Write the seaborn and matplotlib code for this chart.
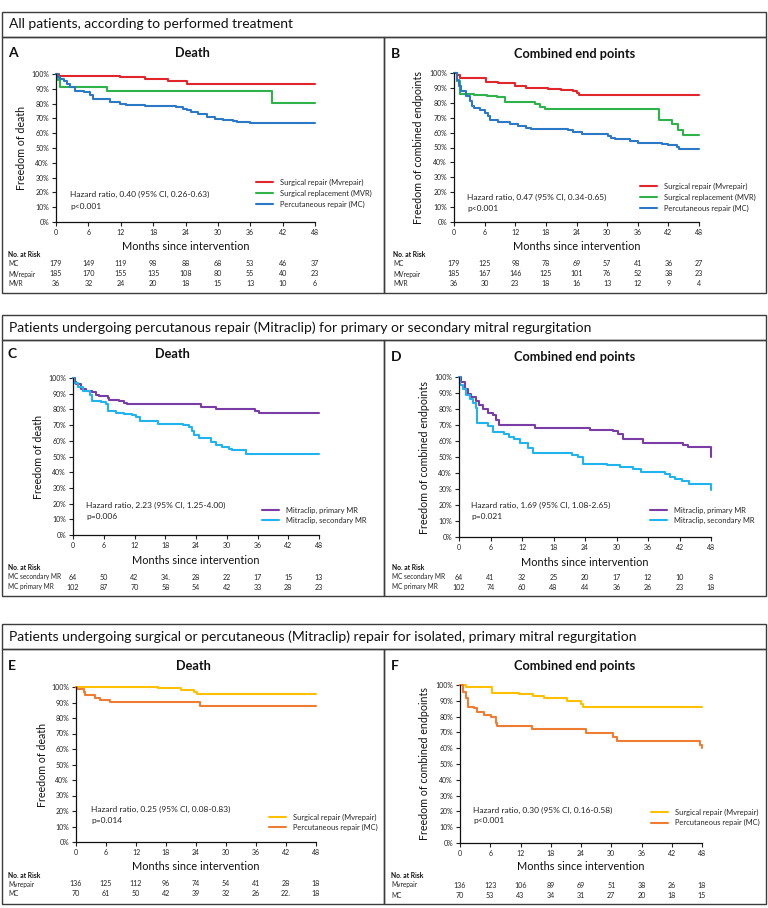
import matplotlib
matplotlib.use("Agg")
import pandas as pd
import seaborn as sns
import matplotlib.pyplot as plt
from matplotlib.patches import Rectangle
from matplotlib.transforms import blended_transform_factory

# --- data -------------------------------------------------------------
month_ticks = [0, 6, 12, 18, 24, 30, 36, 42, 48]
pct_ticks = [0, 10, 20, 30, 40, 50, 60, 70, 80, 90, 100]

# Panel A: death, all patients
a_rep_t = [0, 0.5, 11.9, 16.5, 20.8, 23.0, 24.2, 48]
a_rep_s = [100, 98.4, 97.7, 96.8, 95.5, 95.0, 93.2, 93.2]
a_mvr_t = [0, 0.3, 0.8, 9.5, 40.0, 48]
a_mvr_s = [100, 96, 91.3, 88.6, 80.7, 80.7]
a_mc_t = [0, 0.4, 0.8, 1.4, 2.0, 2.6, 3.5, 5.1, 6.3, 6.9, 10.0, 11.9, 13.0, 16.5,
          22.3, 23.5, 24.2, 25.0, 26.3, 27.9, 29.4, 31.0, 32.8, 33.5, 35.9, 48]
a_mc_s = [100, 98, 96.5, 95.5, 93.5, 91, 88.3, 87.6, 86, 82.8, 80.9, 80, 79.3, 78.5,
          77.5, 76.6, 75.5, 74.1, 73, 71, 69.6, 69.1, 68.5, 67.8, 66.6, 66.6]

# Panel B: combined end points, all patients
b_rep_t = [0, 0.5, 1.1, 6.3, 8.6, 11.9, 14.2, 18.4, 21.0, 23.3, 24.0, 24.4, 48]
b_rep_s = [100, 98.5, 96.9, 94.2, 93.3, 91.3, 90.2, 89.3, 88.8, 87.9, 86.6, 85.0, 85.0]
b_mvr_t = [0, 0.5, 1.1, 4.0, 6.5, 8.5, 9.9, 15.9, 16.8, 17.8, 40.2, 42.8, 43.8, 44.8, 48]
b_mvr_s = [100, 94.4, 86, 85.5, 84.8, 84, 80.5, 79.5, 77.5, 75.8, 68.7, 65.5, 62, 58.6, 58.6]
b_mc_t = [0, 0.5, 0.9, 1.4, 2.4, 3.1, 3.5, 3.9, 5.0, 6.0, 6.6, 7.0, 8.6, 10.9, 12.5, 14.2,
          15.0, 22.4, 23.3, 25.0, 30.2, 30.8, 31.5, 34.4, 36.1, 40.7, 42.0, 43.6, 44.1, 48]
b_mc_s = [100, 95, 91, 87.7, 84.3, 81, 78, 76.2, 75.4, 73.2, 71, 68.7, 67.1, 65.8, 64.7, 63.1,
          62.6, 61.5, 60.4, 59.3, 58.0, 56.5, 55.9, 54.1, 52.8, 52.3, 51.5, 50.3, 48.8, 48.8]

# Panel C: death, Mitraclip primary vs secondary MR
c_pri_t = [0, 0.3, 0.6, 1.6, 2.5, 3.8, 4.5, 5.1, 6.8, 7.1, 9.0, 10.0, 10.6, 24.9, 27.9, 35.5, 36.2, 48]
c_pri_s = [100, 97.5, 96, 93.3, 91.8, 90.8, 89.4, 88.3, 87, 86, 85.5, 84, 83.2, 81.7, 80.2, 79.1, 77.4, 77.4]
c_sec_t = [0, 0.1, 1.0, 1.9, 3.3, 3.7, 5.5, 6.4, 6.9, 8.4, 10.0, 11.6, 12.3, 13.0, 16.5, 20.1,
           21.5, 22.7, 23.2, 23.6, 24.6, 26.9, 27.9, 29.0, 30.5, 31.1, 33.7, 48]
c_sec_s = [100, 96.5, 94, 92, 89.4, 85.1, 84.5, 83.7, 78.8, 77.9, 77.3, 76.6, 75.2, 72.8, 70.9, 70.5,
           69.8, 68.8, 66, 63.5, 62, 59.2, 57.1, 56.2, 55, 54.1, 51.4, 51.4]

# Panel D: combined end points, Mitraclip primary vs secondary MR
d_pri_t = [0, 0.4, 1.1, 1.7, 2.3, 3.3, 3.9, 4.6, 5.5, 6.5, 7.1, 7.7, 14.4, 24.9, 29.3, 30.3,
           31.2, 35.1, 42.6, 43.6, 48]
d_pri_s = [100, 96.9, 92.7, 89.6, 87.5, 84.8, 82.3, 79.8, 77.7, 76.5, 72.9, 69.8, 68.1, 66.7, 66, 64.6,
           61.5, 59, 57.5, 56.3, 50]
d_sec_t = [0, 0.1, 0.8, 1.4, 2.0, 2.7, 3.2, 3.4, 5.5, 6.4, 8.5, 9.5, 10.5, 11.6, 13.1, 14.1, 20.2,
           21.5, 22.7, 23.6, 28.1, 30.6, 33.1, 34.7, 39.2, 40.2, 41.1, 42.5, 43.9, 47.4, 48]
d_sec_s = [100, 95, 92.7, 89, 86.5, 84, 80.4, 71, 69.4, 65.6, 64.5, 62.8, 61, 59, 55.6, 52.7, 52.2,
           51.3, 50, 45.8, 45.3, 43.8, 42.7, 40.6, 39.5, 37.8, 36.5, 35, 33.3, 33, 29.2]

# Panel E: death, isolated primary MR
e_rep_t = [0, 16.3, 21.0, 23.6, 24.2, 48]
e_rep_s = [100, 99.1, 97.9, 96.5, 95.2, 95.2]
e_mc_t = [0, 0.1, 1.5, 1.8, 3.8, 4.8, 6.8, 24.8, 48]
e_mc_s = [100, 98.5, 96.8, 94.6, 93.1, 91.8, 90.3, 87.7, 87.7]

# Panel F: combined end points, isolated primary MR
f_rep_t = [0, 1.1, 6.4, 11.7, 14.4, 16.7, 21.3, 24.0, 24.3, 48]
f_rep_s = [100, 98.5, 95.1, 94.3, 93, 91.6, 90.1, 88, 86.3, 86.3]
f_mc_t = [0, 0.5, 1.1, 1.5, 2.8, 3.4, 4.8, 6.1, 7.1, 7.4, 14.2, 25.0, 30.4, 31.1, 47.6, 48]
f_mc_s = [100, 95.8, 91.6, 86.3, 85.2, 83.1, 81, 80, 75.7, 74, 71.9, 69.8, 67, 64.8, 62, 59.9]

# numbers at risk
a_risk_mc = [179, 149, 119, 98, 88, 68, 53, 46, 37]
a_risk_rep = [185, 170, 155, 135, 108, 80, 55, 40, 23]
a_risk_mvr = [36, 32, 24, 20, 18, 15, 13, 10, 6]
b_risk_mc = [179, 125, 98, 78, 69, 57, 41, 36, 27]
b_risk_rep = [185, 167, 146, 125, 101, 76, 52, 38, 23]
b_risk_mvr = [36, 30, 23, 18, 16, 13, 12, 9, 4]
c_risk_sec = ['64', '50', '42', '34.', '28', '22', '17', '15', '13']
c_risk_pri = [102, 87, 70, 58, 54, 42, 33, 28, 23]
d_risk_sec = [64, 41, 32, 25, 20, 17, 12, 10, 8]
d_risk_pri = [102, 74, 60, 48, 44, 36, 26, 23, 18]
e_risk_rep = [136, 125, 112, 96, 74, 54, 41, 28, 18]
e_risk_mc = ['70', '61', '50', '42', '39', '32', '26', '22.', '18']
f_risk_rep = [136, 123, 106, 89, 69, 51, 38, 26, 18]
f_risk_mc = [70, 53, 43, 34, 31, 27, 20, 18, 15]

section_titles = [
    "All patients, according to performed treatment",
    "Patients undergoing percutanous repair (Mitraclip) for primary or secondary mitral regurgitation",
    "Patients undergoing surgical or percutaneous (Mitraclip) repair for isolated, primary mitral regurgitation",
]

RED, GREEN, BLUE = "#E1262B", "#2DB34A", "#2A78C6"
PURPLE, CYAN = "#7A3DA6", "#1FB4EE"
YELLOW, ORANGE = "#FFC000", "#EE7D31"

lab_rep = "Surgical repair (Mvrepair)"
lab_mvr = "Surgical replacement (MVR)"
lab_mc = "Percutaneous repair (MC)"
lab_pri = "Mitraclip, primary MR"
lab_sec = "Mitraclip, secondary MR"

# --- figure setup -------------------------------------------------------
W, H = 768, 908
sns.set_theme(style="ticks")
plt.rcParams['font.family'] = ['Lato', 'DejaVu Sans']

fig = plt.figure(figsize=(W / 100, H / 100), dpi=100)


def fx(x):
    return x / W


def fy(y):
    return 1 - y / H


def box(x0, y0, x1, y1):
    fig.add_artist(Rectangle((fx(x0), fy(y1)), fx(x1) - fx(x0), fy(y0) - fy(y1),
                             transform=fig.transFigure, fill=False,
                             edgecolor="#3c3c3c", lw=1.0))


# section header boxes and panel boxes (pixel coords)
sections = [(12, 37, 293), (315, 340, 596), (624, 649, 904)]
for (top, mid, bot), title in zip(sections, section_titles):
    box(2, top, 766, mid)
    box(2, mid, 384, bot)
    box(384, mid, 766, bot)
    fig.text(fx(9), fy((top + mid) / 2), title, fontsize=10, va="center", ha="left", color="#111")

panels = [
    dict(letter="A", title="Death", ylabel="Freedom of death",
         ax_box=(56, 74, 315, 222), letter_xy=(8, 53), title_xy=(192, 53), ylab_x=22, xlab_y=247,
         curves=[(a_rep_t, a_rep_s, RED, lab_rep), (a_mvr_t, a_mvr_s, GREEN, lab_mvr),
                 (a_mc_t, a_mc_s, BLUE, lab_mc)],
         leg_xy=(256, 179), leg_sp=0.5,
         hr=("Hazard ratio, 0.40 (95% CI, 0.26-0.63)", "p<0.001"), hr_xy=(70, 194, 206),
         risk_x=8, risk_head_y=254,
         risk=[("MC", a_risk_mc, 264), ("MVrepair", a_risk_rep, 274), ("MVR", a_risk_mvr, 283)]),
    dict(letter="B", title="Combined end points", ylabel="Freedom of combined endpoints",
         ax_box=(454, 73, 699, 222), letter_xy=(391, 54), title_xy=(575, 54), ylab_x=419, xlab_y=247,
         curves=[(b_rep_t, b_rep_s, RED, lab_rep), (b_mvr_t, b_mvr_s, GREEN, lab_mvr),
                 (b_mc_t, b_mc_s, BLUE, lab_mc)],
         leg_xy=(640, 183), leg_sp=0.5,
         hr=("Hazard ratio, 0.47 (95% CI, 0.34-0.65)", "p<0.001"), hr_xy=(467, 197, 208),
         risk_x=393, risk_head_y=254,
         risk=[("MC", b_risk_mc, 264), ("MVrepair", b_risk_rep, 274), ("MVR", b_risk_mvr, 283)]),
    dict(letter="C", title="Death", ylabel="Freedom of death",
         ax_box=(73, 378, 319, 535), letter_xy=(8, 354), title_xy=(172, 354), ylab_x=39, xlab_y=560,
         curves=[(c_pri_t, c_pri_s, PURPLE, lab_pri), (c_sec_t, c_sec_s, CYAN, lab_sec)],
         leg_xy=(262, 507), leg_sp=0.35,
         hr=("Hazard ratio, 2.23 (95% CI, 1.25-4.00)", "p=0.006"), hr_xy=(86, 505, 517),
         risk_x=8, risk_head_y=567,
         risk=[("MC secondary MR", c_risk_sec, 577), ("MC primary MR", c_risk_pri, 587)]),
    dict(letter="D", title="Combined end points", ylabel="Freedom of combined endpoints",
         ax_box=(459, 377, 711, 537), letter_xy=(391, 357), title_xy=(575, 357), ylab_x=424, xlab_y=562,
         curves=[(d_pri_t, d_pri_s, PURPLE, lab_pri), (d_sec_t, d_sec_s, CYAN, lab_sec)],
         leg_xy=(650, 507), leg_sp=0.4,
         hr=("Hazard ratio, 1.69 (95% CI, 1.08-2.65)", "p=0.021"), hr_xy=(471, 505, 517),
         risk_x=392, risk_head_y=568,
         risk=[("MC secondary MR", d_risk_sec, 577), ("MC primary MR", d_risk_pri, 587)]),
    dict(letter="E", title="Death", ylabel="Freedom of death",
         ax_box=(76, 687, 316, 842), letter_xy=(8, 666), title_xy=(193, 666), ylab_x=42, xlab_y=867,
         curves=[(e_rep_t, e_rep_s, YELLOW, lab_rep), (e_mc_t, e_mc_s, ORANGE, lab_mc)],
         leg_xy=(269, 814), leg_sp=0.3,
         hr=("Hazard ratio, 0.25 (95% CI, 0.08-0.83)", "p=0.014"), hr_xy=(91, 809, 820),
         risk_x=8, risk_head_y=875,
         risk=[("Mvrepair", e_risk_rep, 884), ("MC", e_risk_mc, 894)]),
    dict(letter="F", title="Combined end points", ylabel="Freedom of combined endpoints",
         ax_box=(460, 685, 702, 843), letter_xy=(391, 666), title_xy=(575, 666), ylab_x=425, xlab_y=867,
         curves=[(f_rep_t, f_rep_s, YELLOW, lab_rep), (f_mc_t, f_mc_s, ORANGE, lab_mc)],
         leg_xy=(651, 809), leg_sp=0.4,
         hr=("Hazard ratio, 0.30 (95% CI, 0.16-0.58)", "p<0.001"), hr_xy=(473, 810, 820),
         risk_x=391, risk_head_y=875,
         risk=[("Mvrepair", f_risk_rep, 885), ("MC", f_risk_mc, 895)]),
]

for p in panels:
    l, t, r, b = p["ax_box"]
    ax = fig.add_axes([fx(l), fy(b), fx(r) - fx(l), fy(t) - fy(b)])
    handles, labels = [], []
    for tt, ss, col, lab in p["curves"]:
        df = pd.DataFrame({"month": tt, "surv": ss})
        sns.lineplot(data=df, x="month", y="surv", ax=ax, color=col, lw=1.5,
                     drawstyle="steps-post", estimator=None, sort=False, legend=False)
        ax.lines[-1].set_clip_on(False)
        handles.append(ax.lines[-1])
        labels.append(lab)

    ax.set_xlim(0, 48)
    ax.set_ylim(0, 100)
    ax.set_xticks(month_ticks)
    ax.set_xticklabels([str(m) for m in month_ticks])
    ax.set_yticks(pct_ticks)
    ax.set_yticklabels([f"{v}%" for v in pct_ticks])
    ax.tick_params(axis="both", labelsize=5, length=3, width=0.8, pad=2, colors="#222")
    for s in ("left", "bottom"):
        ax.spines[s].set_linewidth(0.9)
        ax.spines[s].set_color("#111")
    sns.despine(ax=ax)
    ax.set_facecolor("none")

    ax.set_xlabel("Months since intervention", fontsize=7.9, va="center", color="#111")
    ax.xaxis.set_label_coords(0.5, -(p["xlab_y"] - b) / (b - t))
    ax.set_ylabel(p["ylabel"], fontsize=7.7, va="center", color="#111")
    ax.yaxis.set_label_coords(-(l - p["ylab_x"]) / (r - l), 0.5)

    ax.legend(handles, labels, loc="upper left", bbox_to_anchor=(fx(p["leg_xy"][0]), fy(p["leg_xy"][1])),
              bbox_transform=fig.transFigure, frameon=False, fontsize=5.4, handlelength=2.2,
              handletextpad=1.0, labelspacing=p["leg_sp"], borderpad=0, borderaxespad=0)

    hx, hy1, hy2 = p["hr_xy"]
    fig.text(fx(hx), fy(hy1), p["hr"][0], fontsize=6.0, va="center", color="#222")
    fig.text(fx(hx), fy(hy2), p["hr"][1], fontsize=6.0, va="center", color="#222")

    fig.text(fx(p["letter_xy"][0]), fy(p["letter_xy"][1]), p["letter"], fontsize=10,
             fontweight="bold", va="center", color="#111")
    fig.text(fx(p["title_xy"][0]), fy(p["title_xy"][1]), p["title"], fontsize=9.2,
             fontweight="bold", va="center", ha="center", color="#111")

    # numbers at risk table
    fig.text(fx(p["risk_x"]), fy(p["risk_head_y"]), "No. at Risk", fontsize=4.9,
             fontweight="bold", va="center", color="#111")
    trans = blended_transform_factory(ax.transData, fig.transFigure)
    for name, vals, ry in p["risk"]:
        fig.text(fx(p["risk_x"]), fy(ry), name, fontsize=4.7, va="center", color="#222")
        for m, v in zip(month_ticks, vals):
            ax.text(m, fy(ry), str(v), transform=trans, fontsize=5.1, ha="center",
                    va="center", color="#222", clip_on=False)

fig.savefig("out.png", dpi=100)
